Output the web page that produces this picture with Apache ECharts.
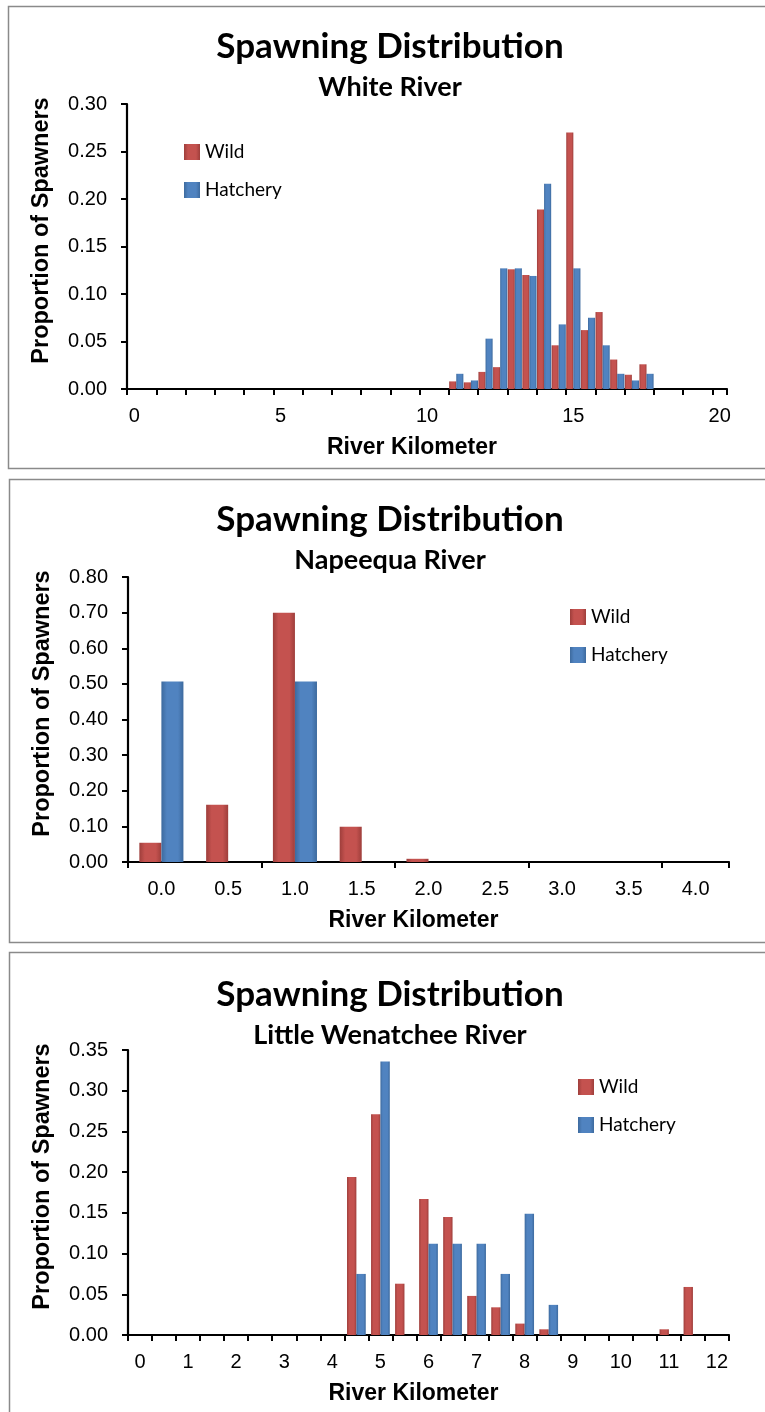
<!DOCTYPE html>
<html>
<head>
<meta charset="utf-8">
<script src="https://cdn.jsdelivr.net/npm/echarts@6/dist/echarts.min.js"></script>
<style>
html,body{margin:0;padding:0;background:#fff;}
#c{width:765px;height:1412px;}
</style>
</head>
<body>
<div id="c"></div>
<script>
// ---------- DATA ----------
var whiteKm = ['0','0.5','1','1.5','2','2.5','3','3.5','4','4.5','5','5.5','6','6.5','7','7.5','8','8.5','9','9.5','10','10.5','11','11.5','12','12.5','13','13.5','14','14.5','15','15.5','16','16.5','17','17.5','18','18.5','19','19.5','20'];
var whiteWild = [0,0,0,0,0,0,0,0,0,0,0,0,0,0,0,0,0,0,0,0,0,0,
  0.008,0.007,0.018,0.023,0.126,0.120,0.189,0.046,0.270,0.062,0.081,0.031,0.015,0.026,
  0,0,0,0,0];
var whiteHatch = [0,0,0,0,0,0,0,0,0,0,0,0,0,0,0,0,0,0,0,0,0,0,
  0.016,0.009,0.053,0.127,0.127,0.119,0.216,0.068,0.127,0.075,0.046,0.016,0.009,0.016,
  0,0,0,0,0];

var napKm = ['0.0','0.5','1.0','1.5','2.0','2.5','3.0','3.5','4.0'];
var napWild = [0.054,0.161,0.700,0.099,0.009,0,0,0,0];
var napHatch = [0.507,0,0.507,0,0,0,0,0,0];

var lwKm = ['0','0.5','1','1.5','2','2.5','3','3.5','4','4.5','5','5.5','6','6.5','7','7.5','8','8.5','9','9.5','10','10.5','11','11.5','12'];
var lwWild = [0,0,0,0,0,0,0,0,0,0.194,0.271,0.063,0.167,0.145,0.048,0.034,0.014,0.007,0,0,0,0,0.007,0.059,0];
var lwHatch = [0,0,0,0,0,0,0,0,0,0.075,0.336,0,0.112,0.112,0.112,0.075,0.149,0.037,0,0,0,0,0,0,0];

var mainTitle = 'Spawning Distribution';
var subTitles = ['White River','Napeequa River','Little Wenatchee River'];
var seriesNames = ['Wild','Hatchery'];
var yName = 'Proportion of Spawners';
var xName = 'River Kilometer';

// ---------- STYLE ----------
var redGrad = new echarts.graphic.LinearGradient(0,0,1,0,[
  {offset:0,color:'#9e3e3b'},{offset:0.25,color:'#c4524f'},{offset:0.75,color:'#c4524f'},{offset:1,color:'#9e3e3b'}]);
var blueGrad = new echarts.graphic.LinearGradient(0,0,1,0,[
  {offset:0,color:'#3d6a9e'},{offset:0.25,color:'#5083c0'},{offset:0.75,color:'#5083c0'},{offset:1,color:'#3d6a9e'}]);

var panels = [
  {border:[8,6,820,462], top:104, left:127, width:600, titleY:47, subY:87,
   cats:whiteKm, wild:whiteWild, hatch:whiteHatch, max:0.30, interval:0.05,
   labelInt:9, tickInt:1, gap:'3%', legend:{left:184, top:142}},
  {border:[9,479,820,463], top:577, left:128, width:601, titleY:520, subY:560,
   cats:napKm, wild:napWild, hatch:napHatch, max:0.80, interval:0.10,
   labelInt:0, tickInt:1, gap:'34%', legend:{left:570, top:607}},
  {border:[9,952,820,470], top:1050, left:128, width:601, titleY:995, subY:1035,
   cats:lwKm, wild:lwWild, hatch:lwHatch, max:0.35, interval:0.05,
   labelInt:1, tickInt:0, gap:'22%', legend:{left:578, top:1077}}
];

var option = {
  backgroundColor:'#fff',
  animation:false,
  title:[], legend:[], grid:[], xAxis:[], yAxis:[], series:[], graphic:[]
};

panels.forEach(function(p, i){
  option.graphic.push({type:'rect', silent:true, z:-10,
    shape:{x:p.border[0]+0.5, y:p.border[1]+0.5, width:p.border[2], height:p.border[3]},
    style:{fill:'#fff', stroke:'#8a8a8a', lineWidth:1.5}});
  option.title.push({text:mainTitle, left:390, textAlign:'center', top:p.titleY-21,
    textStyle:{fontFamily:'Lato', fontWeight:'bold', fontSize:35, lineHeight:42, color:'#000'}, padding:0});
  option.title.push({text:subTitles[i], left:390, textAlign:'center', top:p.subY-16,
    textStyle:{fontFamily:'Lato', fontWeight:'bold', fontSize:27, lineHeight:32, color:'#000'}, padding:0});
  option.legend.push({orient:'vertical', left:p.legend.left, top:p.legend.top,
    data:seriesNames, itemWidth:16, itemHeight:16, itemGap:18, icon:'rect', padding:0,
    selectedMode:false,
    textStyle:{fontFamily:'Lato', fontSize:19, color:'#000', lineHeight:20}});
  option.grid.push({left:p.left, top:p.top, width:p.width, height:285, containLabel:false});
  option.xAxis.push({type:'category', gridIndex:i, data:p.cats,
    boundaryGap:true,
    name:xName, nameLocation:'middle', nameGap:47,
    nameTextStyle:{fontFamily:'Liberation Sans', fontWeight:'bold', fontSize:23, color:'#000', padding:[0,30,0,0]},
    axisLine:{lineStyle:{color:'#000', width:2.2}},
    axisTick:{show:true, inside:false, length:6, interval:p.tickInt, alignWithLabel:false, lineStyle:{color:'#000', width:2}},
    axisLabel:{interval:p.labelInt, margin:17, fontFamily:'Liberation Sans', fontSize:20, color:'#000'},
    splitLine:{show:false}});
  option.yAxis.push({type:'value', gridIndex:i, min:0, max:p.max, interval:p.interval,
    name:yName, nameLocation:'middle', nameGap:73, nameRotate:90,
    nameTextStyle:{fontFamily:'Liberation Sans', fontWeight:'bold', fontSize:23.5, color:'#000', padding:[0,0,0,32]},
    axisLine:{show:true, lineStyle:{color:'#000', width:2.2}},
    axisTick:{show:true, inside:false, length:6, lineStyle:{color:'#000', width:2}},
    axisLabel:{margin:20, fontFamily:'Liberation Sans', fontSize:20, color:'#000',
      formatter:function(v){return v.toFixed(2);}},
    splitLine:{show:false}});
  option.series.push({type:'bar', name:seriesNames[0], xAxisIndex:i, yAxisIndex:i,
    data:p.wild, barGap:'0%', barCategoryGap:p.gap,
    itemStyle:{color:redGrad}});
  option.series.push({type:'bar', name:seriesNames[1], xAxisIndex:i, yAxisIndex:i,
    data:p.hatch, barGap:'0%', barCategoryGap:p.gap,
    itemStyle:{color:blueGrad}});
});

var chart = echarts.init(document.getElementById('c'), null, {renderer:'canvas'});
chart.setOption(option);
</script>
</body>
</html>
